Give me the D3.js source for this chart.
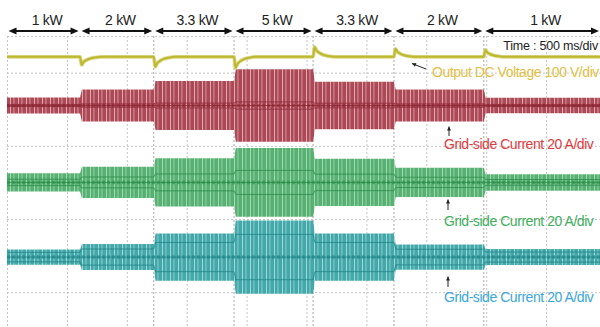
<!DOCTYPE html>
<html>
<head>
<meta charset="utf-8">
<script src="https://cdn.jsdelivr.net/npm/d3@7"></script>
<style>
  html, body { margin: 0; padding: 0; background: #fff; }
  svg { display: block; font-family: "Liberation Sans", Arial, sans-serif; }
</style>
</head>
<body>
<svg id="scope" width="600" height="327"></svg>
<script>
// Load steps applied to the converter (labels over each interval)
const loadLabels = ["1 kW", "2 kW", "3.3 kW", "5 kW", "3.3 kW", "2 kW", "1 kW"];
// Step instants in ms (interval edges), 500 ms/div, 10 divisions
const stepTimes = [0, 610, 1225, 1895, 2555, 3230, 3980, 5000];

// Peak grid-side current per load interval, A (20 A/div)
const redAmps   = [4.4, 8.7, 13.4, 19.8, 13.0, 8.7, 4.2];
const greenAmps = [5.0, 8.5, 13.2, 18.8, 12.9, 8.0, 4.5];
const cyanAmps  = [4.2, 7.1, 12.9, 20.0, 12.9, 6.9, 4.4];

// Output DC voltage excursion at each load step, V (100 V/div)
const dcSteps = [-22, -27, -30, 27, 22, 19];
// Shape of the DC voltage recovery after a step: time offset (ms) / relative size
const recoveryTime  = [-8, 0, 12, 30, 55, 85, 125, 180];
const recoveryShape = [0, 0, 1, 0.62, 0.38, 0.2, 0.08, 0];

// Vertical grid, time ticks in ms; horizontal grid in divisions
const timeTicks = d3.range(0, 5001, 500);
const divTicks = d3.range(-4, 5, 1);

const svg = d3.select("#scope");
const W = 600, H = 327;
const plotTop = 36, plotLeft = 7;
const divX = 59.9, divY = 36.6;

const x = d3.scaleLinear().domain([0, 5000]).range([plotLeft, plotLeft + 10 * divX]);
const y = d3.scaleLinear().domain([4, -4]).range([plotTop, plotTop + 8 * divY]);

svg.append("rect").attr("width", W).attr("height", H).attr("fill", "#fff");

// ---- grid ----
const gridX = svg.append("g")
  .attr("transform", `translate(0,${plotTop})`)
  .call(d3.axisBottom(x).tickValues(timeTicks).tickSize(8 * divY).tickFormat(""));
const gridY = svg.append("g")
  .attr("transform", `translate(${plotLeft},0)`)
  .call(d3.axisRight(y).tickValues(divTicks).tickSize(10 * divX).tickFormat(""));
[gridX, gridY].forEach(g => {
  g.select(".domain").remove();
  g.selectAll(".tick line")
    .attr("stroke", "#c4c4c4")
    .attr("stroke-width", 1)
    .attr("stroke-dasharray", "2,2");
});

// load step markers
svg.append("g").selectAll("line")
  .data(stepTimes.slice(2, 7))
  .join("line")
  .attr("x1", d => x(d)).attr("x2", d => x(d))
  .attr("y1", plotTop).attr("y2", H)
  .attr("stroke", "#a8a8a8")
  .attr("stroke-width", 1)
  .attr("stroke-dasharray", "2,2");

// ---- stripe textures for the compressed AC traces ----
const defs = svg.append("defs");
function stripes(id, dark, light, mid) {
  const p = defs.append("pattern")
    .attr("id", id).attr("patternUnits", "userSpaceOnUse")
    .attr("width", 8).attr("height", 8);
  p.append("rect").attr("width", 8).attr("height", 8).attr("fill", light);
  [[0, 2, dark], [3, 2.5, dark], [5.5, 1, mid], [6.5, 1.5, dark]].forEach(([sx, sw, c]) =>
    p.append("rect").attr("x", sx).attr("width", sw).attr("height", 8).attr("fill", c));
}
stripes("st-red", "#ad4a56", "#deaab0", "#c27078");
stripes("st-green", "#56b172", "#a0d8b0", "#72c089");
stripes("st-cyan", "#42a8aa", "#a0d8d8", "#62b9bb");

defs.append("filter").attr("id", "soft")
  .append("feGaussianBlur").attr("stdDeviation", 0.35);

const channels = [
  { amps: redAmps, offset: 2.10, fill: "url(#st-red)", line: "#8c2434", inner: 0.1 },
  { amps: greenAmps, offset: 0.0, fill: "url(#st-green)", line: "#2b8a48", inner: 0.35 },
  { amps: cyanAmps, offset: -2.04, fill: "url(#st-cyan)", line: "#1e8284", inner: 0.62 }
];
const perDiv = 20;   // A/div
const ramp = 15;     // ms, rise of the envelope at a load step

function envelope(amps) {
  const pts = [];
  amps.forEach((a, i) => {
    pts.push({ t: stepTimes[i] + (i > 0 ? ramp : 0), a });
    pts.push({ t: stepTimes[i + 1], a });
  });
  return pts;
}

const traces = svg.append("g").attr("filter", "url(#soft)");
channels.forEach(ch => {
  const env = envelope(ch.amps);
  const band = d3.area()
    .x(d => x(d.t))
    .y0(d => y(ch.offset + d.a / perDiv))
    .y1(d => y(ch.offset - d.a / perDiv));
  traces.append("path").datum(env).attr("d", band).attr("fill", ch.fill);

  // inner envelope lines
  [1, -1].forEach(s => {
    traces.append("path").datum(env)
      .attr("d", d3.line().x(d => x(d.t)).y(d => y(ch.offset + s * ch.inner * d.a / perDiv)))
      .attr("fill", "none").attr("stroke", ch.line)
      .attr("stroke-width", 1).attr("stroke-opacity", 0.75);
  });
  // centre line with dotted carrier look
  traces.append("line")
    .attr("x1", x(0)).attr("x2", x(5000))
    .attr("y1", y(ch.offset)).attr("y2", y(ch.offset))
    .attr("stroke", ch.line).attr("stroke-width", 3.5)
    .attr("stroke-opacity", 0.55).attr("stroke-dasharray", "3,2");
  traces.append("line")
    .attr("x1", x(0)).attr("x2", x(5000))
    .attr("y1", y(ch.offset)).attr("y2", y(ch.offset))
    .attr("stroke", ch.line).attr("stroke-width", 1).attr("stroke-opacity", 0.8);
});

// ---- output DC voltage ----
const dcOffset = 3.43;  // div
const dcPts = [{ t: 0, v: 0 }];
dcSteps.forEach((p, j) => {
  recoveryTime.forEach((dt, k) => dcPts.push({ t: stepTimes[j + 1] + dt, v: p * recoveryShape[k] }));
});
dcPts.push({ t: 5000, v: 0 });
const dcLine = d3.line()
  .x(d => x(d.t))
  .y(d => y(dcOffset + d.v / 100))
  .curve(d3.curveMonotoneX);
svg.append("path").datum(dcPts).attr("d", dcLine)
  .attr("fill", "none").attr("stroke", "#dcd98c").attr("stroke-width", 3.8);
svg.append("path").datum(dcPts).attr("d", dcLine)
  .attr("fill", "none").attr("stroke", "#bdb82e").attr("stroke-width", 2);

// ---- load interval arrows ----
const header = svg.append("g");
const arrowY = 31;
loadLabels.forEach((lab, i) => {
  const x0 = x(stepTimes[i]) + 1.5;
  const x1 = i === loadLabels.length - 1 ? 599 : x(stepTimes[i + 1]) - 1.5;
  header.append("line")
    .attr("x1", x0 + 4).attr("x2", x1 - 4)
    .attr("y1", arrowY).attr("y2", arrowY)
    .attr("stroke", "#111").attr("stroke-width", 2);
  header.append("path")
    .attr("d", `M${x0},${arrowY} L${x0 + 8},${arrowY - 3.5} L${x0 + 8},${arrowY + 3.5} Z`)
    .attr("fill", "#111");
  header.append("path")
    .attr("d", `M${x1},${arrowY} L${x1 - 8},${arrowY - 3.5} L${x1 - 8},${arrowY + 3.5} Z`)
    .attr("fill", "#111");
  header.append("text")
    .attr("x", (x0 + x1) / 2 + 3.5).attr("y", 25)
    .attr("text-anchor", "middle")
    .attr("font-size", 14).attr("letter-spacing", -0.3)
    .attr("fill", "#222")
    .text(lab);
});

// ---- annotations ----
svg.append("text").attr("x", 598).attr("y", 50)
  .attr("text-anchor", "end")
  .attr("font-size", 12.5).attr("letter-spacing", -0.2)
  .attr("fill", "#222").text("Time : 500 ms/div");

const notes = [
  { text: "Output DC Voltage 100 V/div", x: 432, y: 77, color: "#e2bf45" },
  { text: "Grid-side Current 20 A/div", x: 444, y: 149, color: "#e0393d" },
  { text: "Grid-side Current 20 A/div", x: 444, y: 226, color: "#3dae5c" },
  { text: "Grid-side Current 20 A/div", x: 444, y: 302, color: "#3ba6da" }
];
notes.forEach(n => {
  svg.append("text").attr("x", n.x).attr("y", n.y)
    .attr("font-size", 14).attr("letter-spacing", -0.45)
    .attr("fill", n.color).text(n.text);
});

// pointer arrows to each trace
function pointer(xa, ya, xb, yb) {
  const ang = Math.atan2(yb - ya, xb - xa);
  svg.append("line").attr("x1", xa).attr("y1", ya).attr("x2", xb).attr("y2", yb)
    .attr("stroke", "#222").attr("stroke-width", 1);
  const L = 4, Wd = 2;
  const bx = xb - L * Math.cos(ang), by = yb - L * Math.sin(ang);
  const px = -Math.sin(ang) * Wd, py = Math.cos(ang) * Wd;
  svg.append("path")
    .attr("d", `M${xb},${yb} L${bx + px},${by + py} L${bx - px},${by - py} Z`)
    .attr("fill", "#222");
}
pointer(426, 69, 412, 63.5);
pointer(449, 136, 449, 126.5);
pointer(448, 210, 448, 199.5);
pointer(448, 287, 448, 276.5);
</script>
</body>
</html>
